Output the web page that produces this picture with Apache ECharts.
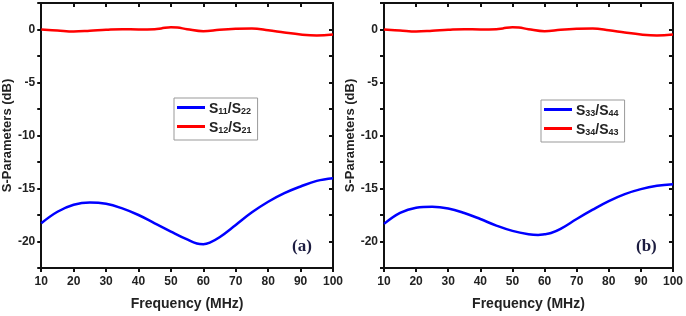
<!DOCTYPE html>
<html>
<head>
<meta charset="utf-8">
<script src="https://cdn.jsdelivr.net/npm/echarts@6/dist/echarts.min.js"></script>
<style>
html,body{margin:0;padding:0;background:#fff;}
#c{width:686px;height:316px;}
</style>
</head>
<body>
<div id="c"></div>
<script>
// Frequency sample points (MHz)
const freqBlue = [10,15,20,25,30,35,40,45,50,55,58,60,62,65,70,75,80,85,90,95,100];
const freqRed  = [10,15,20,25,30,35,40,45,47,50,52,55,60,65,70,75,80,85,90,95,100];

// Panel (a)
const s11s22 = [-18.28,-17.19,-16.53,-16.31,-16.44,-16.88,-17.5,-18.28,-19.06,-19.81,-20.19,-20.25,-20.1,-19.6,-18.44,-17.25,-16.25,-15.44,-14.81,-14.28,-14.03];
const s12s21 = [0,-0.09,-0.19,-0.12,-0.03,0.03,0,0.03,0.1,0.22,0.19,0.03,-0.16,-0.03,0.06,0.1,-0.06,-0.28,-0.47,-0.56,-0.47];

// Panel (b)
const s33s44 = [-18.34,-17.3,-16.81,-16.72,-16.88,-17.31,-17.88,-18.5,-19.0,-19.31,-19.38,-19.31,-19.2,-18.81,-17.88,-17.0,-16.19,-15.53,-15.06,-14.75,-14.59];
const s34s43 = [0,-0.09,-0.19,-0.12,-0.03,0.03,0,0.03,0.1,0.22,0.19,0.03,-0.16,-0.03,0.06,0.1,-0.06,-0.28,-0.47,-0.56,-0.47];

const xTicks = [10,20,30,40,50,60,70,80,90,100];
const yTicks = [0,-5,-10,-15,-20];

const pairs = (xs, ys) => xs.map((x,i)=>[x, ys[i]]);

const chart = echarts.init(document.getElementById('c'), null, {renderer:'canvas'});
const FONT = 'Liberation Sans, Arial, sans-serif';
const TXT = '#222';

const grids = [
  {left:41, top:3, width:292, height:267},
  {left:384, top:3, width:292, height:267}
];

function xAxes(gi){
  return [
    {type:'value', gridIndex:gi, position:'bottom', min:10, max:100, interval:10,
     axisLine:{show:true, onZero:false, lineStyle:{color:'#111', width:2}},
     axisTick:{show:true, inside:false, length:4, lineStyle:{color:'#111', width:2}},
     axisLabel:{show:true, color:TXT, fontFamily:FONT, fontWeight:'bold', fontSize:12, margin:8,
       formatter:v=> xTicks.includes(v) ? String(v) : ''},
     splitLine:{show:false},
     name:'Frequency (MHz)', nameLocation:'middle', nameGap:29,
     nameTextStyle:{color:TXT, fontFamily:FONT, fontWeight:'bold', fontSize:14}},
    {type:'value', gridIndex:gi, position:'top', min:10, max:100, interval:10,
     axisLine:{show:true, onZero:false, lineStyle:{color:'#111', width:2}},
     axisTick:{show:true, inside:true, length:4, lineStyle:{color:'#111', width:2}},
     axisLabel:{show:false}, splitLine:{show:false}}
  ];
}
function yAxes(gi){
  return [
    {type:'value', gridIndex:gi, position:'left', min:-22.5, max:2.5, interval:2.5,
     axisLine:{show:true, onZero:false, lineStyle:{color:'#111', width:2}},
     axisTick:{show:true, inside:false, length:4, lineStyle:{color:'#111', width:2}},
     axisLabel:{show:true, color:TXT, fontFamily:FONT, fontWeight:'bold', fontSize:12, margin:6,
       formatter:v=> yTicks.includes(v) ? String(v) : ''},
     splitLine:{show:false},
     name:'S-Parameters (dB)', nameLocation:'middle', nameGap:25, nameRotate:90,
     nameTextStyle:{color:TXT, fontFamily:FONT, fontWeight:'bold', fontSize:13}},
    {type:'value', gridIndex:gi, position:'right', min:-22.5, max:2.5, interval:2.5,
     axisLine:{show:true, onZero:false, lineStyle:{color:'#111', width:2}},
     axisTick:{show:true, inside:true, length:4, lineStyle:{color:'#111', width:2}},
     axisLabel:{show:false}, splitLine:{show:false}}
  ];
}

function lineSeries(name, xs, ys, color, xi, yi){
  return {type:'line', name:name, xAxisIndex:xi, yAxisIndex:yi, data:pairs(xs,ys),
    smooth:0.4, showSymbol:false, symbol:'none', animation:false,
    lineStyle:{color:color, width:2.5}, itemStyle:{color:color}};
}

function legendFmt(name){
  const m = name.match(/S(\d+)\/S(\d+)/);
  return '{n|S}{s|'+m[1]+'}{n|/S}{s|'+m[2]+'}';
}
function legend(names, left, top){
  return {show:true, orient:'vertical', left:left, top:top, data:names,
    icon:'rect', itemWidth:28, itemHeight:3, itemGap:5,
    borderColor:'#999', borderWidth:1, padding:[4,6,5,3],
    selectedMode:false,
    formatter:legendFmt,
    textStyle:{padding:[0,0,0,-1], rich:{
      n:{fontFamily:FONT, fontWeight:'bold', fontSize:14, color:TXT, lineHeight:17, verticalAlign:'bottom'},
      s:{fontFamily:FONT, fontWeight:'bold', fontSize:9, color:TXT, lineHeight:8, verticalAlign:'bottom'}
    }}};
}

const option = {
  backgroundColor:'#fff',
  animation:false,
  grid:grids,
  xAxis:[...xAxes(0), ...xAxes(1)],
  yAxis:[...yAxes(0), ...yAxes(1)],
  legend:[
    legend(['S11/S22','S12/S21'], 174, 98),
    legend(['S33/S44','S34/S43'], 541, 100)
  ],
  series:[
    lineSeries('S12/S21', freqRed, s12s21, '#ff0000', 0, 0),
    lineSeries('S11/S22', freqBlue, s11s22, '#0000ff', 0, 0),
    lineSeries('S34/S43', freqRed, s34s43, '#ff0000', 2, 2),
    lineSeries('S33/S44', freqBlue, s33s44, '#0000ff', 2, 2)
  ],
  graphic:[
    {type:'text', left:292, top:238, style:{text:'(a)', font:'bold 17px "Liberation Serif", "Times New Roman", serif', fill:'#1c1c40'}},
    {type:'text', left:636, top:238, style:{text:'(b)', font:'bold 17px "Liberation Serif", "Times New Roman", serif', fill:'#1c1c40'}}
  ]
};
chart.setOption(option);
</script>
</body>
</html>
